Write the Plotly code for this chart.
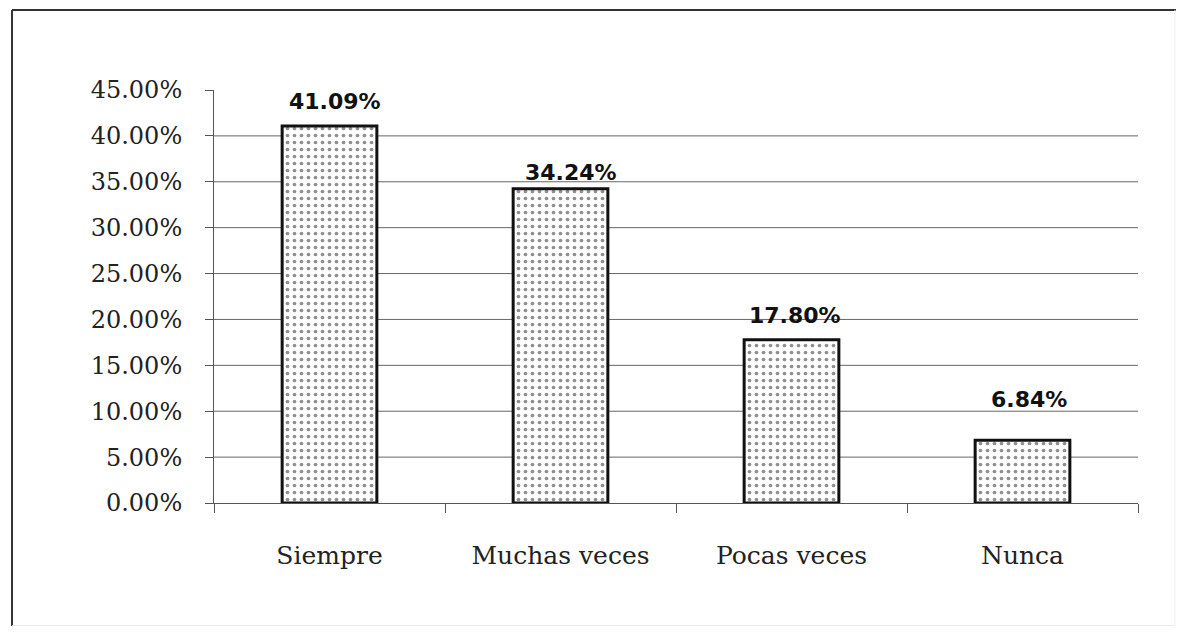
"""Grafico de barras con patron punteado."""

import plotly.graph_objects as go

categorias = ["Siempre", "Muchas veces", "Pocas veces", "Nunca"]
porcentajes = [41.09, 34.24, 17.80, 6.84]
etiquetas = ["41.09%", "34.24%", "17.80%", "6.84%"]
ticks_y = [0, 5, 10, 15, 20, 25, 30, 35, 40, 45]
ticks_txt = ["0.00%", "5.00%", "10.00%", "15.00%", "20.00%", "25.00%",
             "30.00%", "35.00%", "40.00%", "45.00%"]

# desplazamientos de las etiquetas de datos (px)
shift_y = [10, 2, 10, 26]
shift_x = [5, 10, 3, 6]

fig = go.Figure()
fig.add_trace(go.Bar(
    x=categorias, y=porcentajes,
    marker=dict(
        color="white",
        line=dict(color="#111", width=3),
        pattern=dict(shape=".", fgcolor="#222", bgcolor="white", size=7, solidity=0.22),
    ),
    showlegend=False,
))

for cat, val, txt, dy, dx in zip(categorias, porcentajes, etiquetas, shift_y, shift_x):
    fig.add_annotation(
        x=cat, y=val, text=f"<b>{txt}</b>", showarrow=False,
        yanchor="bottom", yshift=dy, xshift=dx,
        font=dict(family="DejaVu Sans", size=22, color="#111"),
    )

# lineas de cuadricula (sin la de 45%)
for v in ticks_y[1:-1]:
    fig.add_shape(type="line", xref="paper", yref="y", x0=0, x1=1, y0=v, y1=v,
                  line=dict(color="#666", width=1), layer="below")

# marco del grafico
fig.add_shape(type="line", xref="paper", yref="paper", x0=-0.2186, x1=-0.2186,
              y0=-0.33, y1=1.1937, line=dict(color="#333", width=2))
fig.add_shape(type="line", xref="paper", yref="paper", x0=-0.2186, x1=1.06,
              y0=1.1937, y1=1.1937, line=dict(color="#333", width=2))
fig.add_shape(type="line", xref="paper", yref="paper", x0=-0.2186, x1=1.04,
              y0=-0.297, y1=-0.297, line=dict(color="#e6e6e6", width=1))
fig.add_shape(type="line", xref="paper", yref="paper", x0=1.04, x1=1.04,
              y0=-0.297, y1=1.1937, line=dict(color="#f0f0f0", width=1))

fig.update_layout(
    width=1168, height=618,
    margin=dict(l=206, r=38, t=82, b=123),
    paper_bgcolor="white", plot_bgcolor="white",
    bargap=0.59,
    xaxis=dict(
        showline=True, linecolor="#555", linewidth=1,
        ticks="outside", ticklen=9, tickcolor="#555", tickson="boundaries",
        ticklabelstandoff=30,
        tickfont=dict(family="DejaVu Serif", size=25, color="#222"),
    ),
    yaxis=dict(
        range=[0, 45], tickvals=ticks_y, ticktext=ticks_txt,
        showgrid=False, zeroline=False,
        showline=True, linecolor="#555", linewidth=1,
        ticks="outside", ticklen=8, tickcolor="#555",
        ticklabelstandoff=18,
        tickfont=dict(family="DejaVu Serif", size=24, color="#222"),
    ),
)

fig.write_html("out.html")
